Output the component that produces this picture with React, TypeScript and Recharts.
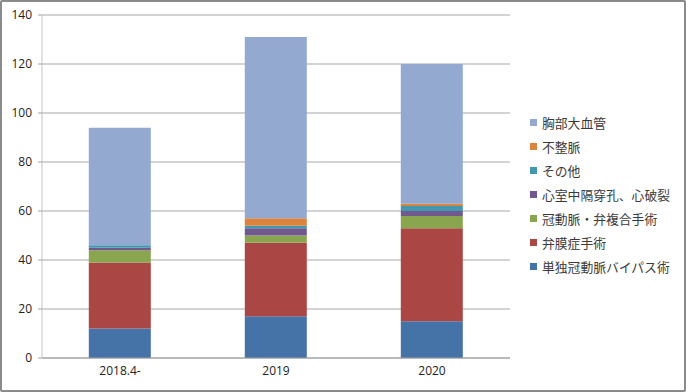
import React from 'react';
import { BarChart, Bar, XAxis, YAxis, CartesianGrid } from 'recharts';

const categories = ['2018.4-', '2019', '2020'];
const seriesNames = [
  '単独冠動脈バイパス術',
  '弁膜症手術',
  '冠動脈・弁複合手術',
  '心室中隔穿孔、心破裂',
  'その他',
  '不整脈',
  '胸部大血管',
];
const seriesColors = ['#4572A7', '#AA4643', '#89A54E', '#71588F', '#4198AF', '#DB843D', '#93A9CF'];
const cabg = [12, 17, 15];
const valve = [27, 30, 38];
const combined = [5, 3, 5];
const vsp = [1, 3, 2];
const other = [1, 1, 2];
const arrhythmia = [0, 3, 1];
const aorta = [48, 74, 57];
const seriesValues = [cabg, valve, combined, vsp, other, arrhythmia, aorta];
const yTicks = [0, 20, 40, 60, 80, 100, 120, 140];

const data = categories.map((c, i) => {
  const row: Record<string, string | number> = { name: c };
  seriesNames.forEach((s, j) => {
    row[s] = seriesValues[j][i];
  });
  return row;
});

const FONT = "'Open Sans', 'Noto Sans CJK JP', sans-serif";

const LegendBox = () => {
  const items = seriesNames.map((n, i) => ({ n, c: seriesColors[i] })).reverse();
  return (
    <div style={{ position: 'absolute', left: 530, top: 110, fontFamily: FONT, fontSize: 12.8, color: '#3a3a3a' }}>
      {items.map((it) => (
        <div key={it.n} style={{ display: 'flex', alignItems: 'center', height: 24, whiteSpace: 'nowrap' }}>
          <span style={{ display: 'inline-block', width: 7, height: 7, background: it.c, marginRight: 5 }} />
          <span>{it.n}</span>
        </div>
      ))}
    </div>
  );
};

export default function App() {
  return (
    <div
      style={{
        position: 'absolute',
        left: 0,
        top: 0,
        width: 686,
        height: 392,
        border: '2px solid #8a8a8a',
        boxSizing: 'border-box',
        borderRadius: 2,
        background: '#fff',
        overflow: 'hidden',
      }}
    >
      <div style={{ position: 'absolute', left: -2, top: -2 }}>
        <BarChart
          width={686}
          height={392}
          data={data}
          margin={{ top: 15, right: 176, left: 0, bottom: 0 }}
          barCategoryGap="30%"
        >
          <CartesianGrid vertical={false} stroke="#c4c4c4" strokeWidth={1.5} />
          <XAxis
            dataKey="name"
            height={34}
            tickLine={false}
            axisLine={{ stroke: '#a0a0a0' }}
            tickSize={4}
            tickMargin={4}
            tick={{ fill: '#222', fontSize: 12, fontFamily: FONT }}
          />
          <YAxis
            width={42}
            domain={[0, 140]}
            ticks={yTicks}
            interval={0}
            axisLine={{ stroke: '#c4c4c4' }}
            tickLine={{ stroke: '#a0a0a0' }}
            tickSize={4}
            tickMargin={6}
            tick={{ fill: '#222', fontSize: 12, fontFamily: FONT }}
          />
          {seriesNames.map((s, i) => (
            <Bar key={s} dataKey={s} stackId="a" fill={seriesColors[i]} isAnimationActive={false} />
          ))}
        </BarChart>
        <LegendBox />
      </div>
    </div>
  );
}
